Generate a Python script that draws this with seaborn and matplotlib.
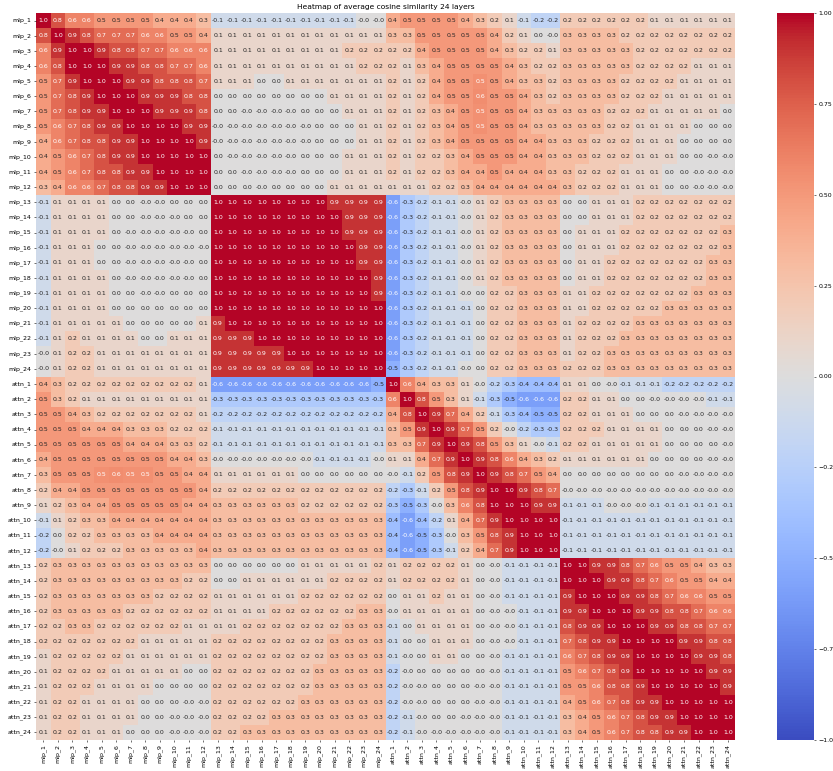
import numpy as np
import pandas as pd
import matplotlib
matplotlib.use("Agg")
import matplotlib.pyplot as plt
import seaborn as sns

mlp_labels = [f"mlp_{i}" for i in range(1, 25)]
attn_labels = [f"attn_{i}" for i in range(1, 25)]
labels = mlp_labels + attn_labels

# columns: mlp_1..mlp_24, attn_1..attn_24
mlp_rows = [
    [1.0,0.8,0.6,0.6,0.5,0.5,0.5,0.5,0.4,0.4,0.4,0.3,-0.1, -0.1,-0.1,-0.1,-0.1,-0.1,-0.1,-0.1,-0.1,-0.1,-0.0,-0.0, 0.4,0.5, 0.5,0.5,0.5,0.4,0.3,0.2,0.1,-0.1,-0.2,-0.2,0.2,0.2,0.2, 0.2,0.2,0.2,0.1,0.1,0.1,0.1,0.1,0.1],
    [0.8,1.0,0.9,0.8,0.7,0.7,0.7,0.6,0.6,0.5,0.5,0.4,0.1, 0.1,0.1,0.1,0.1,0.1,0.1,0.1,0.1,0.1,0.1,0.1, 0.3,0.3, 0.5,0.5,0.5,0.5,0.5,0.4,0.2,0.1,0.0,-0.0,0.3,0.3,0.3, 0.3,0.2,0.2,0.2,0.2,0.2,0.2,0.2,0.2],
    [0.6,0.9,1.0,1.0,0.9,0.8,0.8,0.7,0.7,0.6,0.6,0.6,0.1, 0.1,0.1,0.1,0.1,0.1,0.1,0.1,0.1,0.2,0.2,0.2, 0.2,0.2, 0.4,0.5,0.5,0.5,0.5,0.4,0.3,0.2,0.2,0.1,0.3,0.3,0.3, 0.3,0.3,0.2,0.2,0.2,0.2,0.2,0.2,0.2],
    [0.6,0.8,1.0,1.0,1.0,0.9,0.9,0.8,0.8,0.7,0.7,0.6,0.1, 0.1,0.1,0.1,0.1,0.1,0.1,0.1,0.1,0.1,0.2,0.2, 0.2,0.1, 0.3,0.4,0.5,0.5,0.5,0.5,0.4,0.3,0.2,0.2,0.3,0.3,0.3, 0.3,0.3,0.2,0.2,0.2,0.2,0.1,0.1,0.1],
    [0.5,0.7,0.9,1.0,1.0,1.0,0.9,0.9,0.8,0.8,0.8,0.7,0.1, 0.1,0.1,0.0,0.0,0.1,0.1,0.1,0.1,0.1,0.1,0.1, 0.2,0.1, 0.2,0.4,0.5,0.5,0.54,0.5,0.4,0.3,0.3,0.2,0.3,0.3,0.3, 0.3,0.2,0.2,0.2,0.2,0.1,0.1,0.1,0.1],
    [0.5,0.7,0.8,0.9,1.0,1.0,1.0,0.9,0.9,0.9,0.8,0.8,0.0, 0.0,0.0,0.0,0.0,0.0,0.0,0.0,0.1,0.1,0.1,0.1, 0.2,0.1, 0.2,0.4,0.5,0.5,0.56,0.5,0.5,0.4,0.3,0.2,0.3,0.3,0.3, 0.3,0.2,0.2,0.2,0.1,0.1,0.1,0.1,0.1],
    [0.5,0.7,0.8,0.9,0.9,1.0,1.0,1.0,0.9,0.9,0.9,0.8,0.0, 0.0,-0.0,-0.0,-0.0,-0.0,0.0,0.0,0.0,0.1,0.1,0.1, 0.2,0.1, 0.2,0.3,0.4,0.5,0.54,0.5,0.5,0.4,0.3,0.3,0.3,0.3,0.3, 0.2,0.2,0.2,0.1,0.1,0.1,0.1,0.1,0.0],
    [0.5,0.6,0.7,0.8,0.9,0.9,1.0,1.0,1.0,1.0,0.9,0.9,-0.0, -0.0,-0.0,-0.0,-0.0,-0.0,-0.0,0.0,0.0,0.0,0.1,0.1, 0.2,0.1, 0.2,0.3,0.4,0.5,0.54,0.5,0.5,0.4,0.3,0.3,0.3,0.3,0.3, 0.2,0.2,0.1,0.1,0.1,0.1,0.0,0.0,0.0],
    [0.4,0.6,0.7,0.8,0.8,0.9,0.9,1.0,1.0,1.0,1.0,0.9,-0.0, -0.0,-0.0,-0.0,-0.0,-0.0,-0.0,0.0,0.0,0.0,0.1,0.1, 0.2,0.1, 0.2,0.3,0.4,0.5,0.5,0.5,0.5,0.4,0.4,0.3,0.3,0.3,0.2, 0.2,0.2,0.1,0.1,0.1,0.0,0.0,0.0,0.0],
    [0.4,0.5,0.6,0.7,0.8,0.9,0.9,1.0,1.0,1.0,1.0,1.0,0.0, -0.0,-0.0,-0.0,-0.0,-0.0,0.0,0.0,0.0,0.1,0.1,0.1, 0.2,0.1, 0.2,0.2,0.3,0.4,0.5,0.5,0.5,0.4,0.4,0.3,0.3,0.3,0.2, 0.2,0.2,0.1,0.1,0.1,0.0,0.0,-0.0,-0.0],
    [0.4,0.5,0.6,0.7,0.8,0.8,0.9,0.9,1.0,1.0,1.0,1.0,0.0, 0.0,-0.0,-0.0,-0.0,-0.0,0.0,0.0,0.0,0.1,0.1,0.1, 0.2,0.1, 0.2,0.2,0.3,0.4,0.4,0.5,0.4,0.4,0.4,0.3,0.3,0.2,0.2, 0.2,0.1,0.1,0.1,0.0,0.0,-0.0,-0.0,-0.0],
    [0.3,0.4,0.6,0.6,0.7,0.8,0.8,0.9,0.9,1.0,1.0,1.0,0.0, 0.0,0.0,-0.0,0.0,0.0,0.0,0.0,0.1,0.1,0.1,0.1, 0.1,0.1, 0.1,0.2,0.2,0.3,0.4,0.4,0.4,0.4,0.4,0.4,0.3,0.2,0.2, 0.2,0.1,0.1,0.1,0.0,0.0,-0.0,-0.0,-0.0],
    [-0.1,0.1,0.1,0.1,0.1,0.0,0.0,-0.0,-0.0,0.0,0.0,0.0,1.0, 1.0,1.0,1.0,1.0,1.0,1.0,1.0,0.9,0.9,0.9,0.9, -0.6,-0.3, -0.2,-0.1,-0.1,-0.0,0.1,0.2,0.3,0.3,0.3,0.3,0.0,0.0,0.1, 0.1,0.1,0.2,0.2,0.2,0.2,0.2,0.2,0.2],
    [-0.1,0.1,0.1,0.1,0.1,0.0,0.0,-0.0,-0.0,-0.0,0.0,0.0,1.0, 1.0,1.0,1.0,1.0,1.0,1.0,1.0,1.0,0.9,0.9,0.9, -0.6,-0.3, -0.2,-0.1,-0.1,-0.0,0.1,0.2,0.3,0.3,0.3,0.3,0.0,0.0,0.1, 0.1,0.1,0.2,0.2,0.2,0.2,0.2,0.2,0.2],
    [-0.1,0.1,0.1,0.1,0.1,0.0,-0.0,-0.0,-0.0,-0.0,-0.0,0.0,1.0, 1.0,1.0,1.0,1.0,1.0,1.0,1.0,1.0,0.9,0.9,0.9, -0.6,-0.3, -0.2,-0.1,-0.1,-0.0,0.1,0.2,0.3,0.3,0.3,0.3,0.0,0.1,0.1, 0.1,0.2,0.2,0.2,0.2,0.2,0.2,0.2,0.3],
    [-0.1,0.1,0.1,0.1,0.0,0.0,-0.0,-0.0,-0.0,-0.0,-0.0,-0.0,1.0, 1.0,1.0,1.0,1.0,1.0,1.0,1.0,1.0,1.0,0.9,0.9, -0.6,-0.3, -0.2,-0.1,-0.1,-0.0,0.1,0.2,0.3,0.3,0.3,0.3,0.0,0.1,0.1, 0.1,0.2,0.2,0.2,0.2,0.2,0.2,0.2,0.3],
    [-0.1,0.1,0.1,0.1,0.0,0.0,-0.0,-0.0,-0.0,-0.0,-0.0,0.0,1.0, 1.0,1.0,1.0,1.0,1.0,1.0,1.0,1.0,1.0,0.9,0.9, -0.6,-0.3, -0.2,-0.1,-0.1,-0.0,0.1,0.2,0.3,0.3,0.3,0.3,0.0,0.1,0.1, 0.2,0.2,0.2,0.2,0.2,0.2,0.2,0.3,0.3],
    [-0.1,0.1,0.1,0.1,0.1,0.0,-0.0,-0.0,-0.0,-0.0,-0.0,0.0,1.0, 1.0,1.0,1.0,1.0,1.0,1.0,1.0,1.0,1.0,1.0,0.9, -0.6,-0.3, -0.2,-0.1,-0.1,-0.0,0.1,0.2,0.3,0.3,0.3,0.3,0.0,0.1,0.1, 0.2,0.2,0.2,0.2,0.2,0.2,0.2,0.3,0.3],
    [-0.1,0.1,0.1,0.1,0.1,0.0,0.0,-0.0,-0.0,0.0,0.0,0.0,1.0, 1.0,1.0,1.0,1.0,1.0,1.0,1.0,1.0,1.0,1.0,0.9, -0.6,-0.3, -0.2,-0.1,-0.1,-0.0,0.0,0.2,0.2,0.3,0.3,0.3,0.1,0.1,0.2, 0.2,0.2,0.2,0.2,0.2,0.2,0.3,0.3,0.3],
    [-0.1,0.1,0.1,0.1,0.1,0.0,0.0,0.0,0.0,0.0,0.0,0.0,1.0, 1.0,1.0,1.0,1.0,1.0,1.0,1.0,1.0,1.0,1.0,1.0, -0.6,-0.3, -0.2,-0.1,-0.1,-0.1,0.0,0.2,0.2,0.3,0.3,0.3,0.1,0.1,0.2, 0.2,0.2,0.2,0.2,0.3,0.3,0.3,0.3,0.3],
    [-0.1,0.1,0.1,0.1,0.1,0.1,0.0,0.0,0.0,0.0,0.0,0.1,0.9, 1.0,1.0,1.0,1.0,1.0,1.0,1.0,1.0,1.0,1.0,1.0, -0.6,-0.3, -0.2,-0.1,-0.1,-0.1,0.0,0.2,0.2,0.3,0.3,0.3,0.1,0.2,0.2, 0.2,0.2,0.3,0.3,0.3,0.3,0.3,0.3,0.3],
    [-0.1,0.1,0.2,0.1,0.1,0.1,0.1,0.0,0.0,0.1,0.1,0.1,0.9, 0.9,0.9,1.0,1.0,1.0,1.0,1.0,1.0,1.0,1.0,1.0, -0.6,-0.3, -0.2,-0.1,-0.1,-0.1,0.0,0.2,0.2,0.3,0.3,0.3,0.1,0.2,0.2, 0.2,0.3,0.3,0.3,0.3,0.3,0.3,0.3,0.3],
    [-0.0,0.1,0.2,0.2,0.1,0.1,0.1,0.1,0.1,0.1,0.1,0.1,0.9, 0.9,0.9,0.9,0.9,1.0,1.0,1.0,1.0,1.0,1.0,1.0, -0.6,-0.3, -0.2,-0.1,-0.1,-0.1,0.0,0.2,0.2,0.3,0.3,0.3,0.1,0.2,0.2, 0.3,0.3,0.3,0.3,0.3,0.3,0.3,0.3,0.3],
    [-0.0,0.1,0.2,0.2,0.1,0.1,0.1,0.1,0.1,0.1,0.1,0.1,0.9, 0.9,0.9,0.9,0.9,0.9,0.9,1.0,1.0,1.0,1.0,1.0, -0.5,-0.3, -0.2,-0.1,-0.1,-0.0,0.0,0.2,0.2,0.3,0.3,0.3,0.2,0.2,0.2, 0.3,0.3,0.3,0.3,0.3,0.3,0.3,0.3,0.3],
]

attn_rows = [
    [0.4,0.3,0.2,0.2,0.2,0.2,0.2,0.2,0.2,0.2,0.2,0.1,-0.6, -0.6,-0.6,-0.6,-0.6,-0.6,-0.6,-0.6,-0.6,-0.6,-0.6,-0.5, 1.0,0.6, 0.4,0.3,0.3,0.1,-0.0,-0.2,-0.3,-0.4,-0.4,-0.4,0.1,0.1,0.0, -0.0,-0.1,-0.1,-0.1,-0.2,-0.2,-0.2,-0.2,-0.2],
    [0.5,0.3,0.2,0.1,0.1,0.1,0.1,0.1,0.1,0.1,0.1,0.1,-0.3, -0.3,-0.3,-0.3,-0.3,-0.3,-0.3,-0.3,-0.3,-0.3,-0.3,-0.3, 0.6,1.0, 0.8,0.5,0.3,0.1,-0.1,-0.3,-0.5,-0.6,-0.6,-0.6,0.2,0.2,0.1, 0.1,0.0,0.0,-0.0,-0.0,-0.0,-0.0,-0.1,-0.1],
    [0.5,0.5,0.4,0.3,0.2,0.2,0.2,0.2,0.2,0.2,0.2,0.1,-0.2, -0.2,-0.2,-0.2,-0.2,-0.2,-0.2,-0.2,-0.2,-0.2,-0.2,-0.2, 0.4,0.8, 1.0,0.9,0.7,0.4,0.2,-0.1,-0.3,-0.4,-0.5,-0.5,0.2,0.2,0.1, 0.1,0.1,0.0,0.0,0.0,-0.0,-0.0,-0.0,-0.0],
    [0.5,0.5,0.5,0.4,0.4,0.4,0.3,0.3,0.3,0.2,0.2,0.2,-0.1, -0.1,-0.1,-0.1,-0.1,-0.1,-0.1,-0.1,-0.1,-0.1,-0.1,-0.1, 0.3,0.5, 0.9,1.0,0.9,0.7,0.5,0.2,-0.0,-0.2,-0.3,-0.3,0.2,0.2,0.2, 0.1,0.1,0.1,0.1,0.0,0.0,0.0,-0.0,-0.0],
    [0.5,0.5,0.5,0.5,0.5,0.5,0.4,0.4,0.4,0.3,0.3,0.2,-0.1, -0.1,-0.1,-0.1,-0.1,-0.1,-0.1,-0.1,-0.1,-0.1,-0.1,-0.1, 0.3,0.3, 0.7,0.9,1.0,0.9,0.8,0.5,0.3,0.1,-0.0,-0.1,0.2,0.2,0.1, 0.1,0.1,0.1,0.1,0.0,0.0,0.0,0.0,-0.0],
    [0.4,0.5,0.5,0.5,0.5,0.5,0.5,0.5,0.5,0.4,0.4,0.3,-0.0, -0.0,-0.0,-0.0,-0.0,-0.0,-0.0,-0.1,-0.1,-0.1,-0.1,-0.0, 0.1,0.1, 0.4,0.7,0.9,1.0,0.9,0.8,0.6,0.4,0.3,0.2,0.1,0.1,0.1, 0.1,0.1,0.1,0.0,0.0,0.0,0.0,-0.0,-0.0],
    [0.3,0.5,0.5,0.5,0.54,0.56,0.54,0.54,0.5,0.5,0.4,0.4,0.1, 0.1,0.1,0.1,0.1,0.1,0.0,0.0,0.0,0.0,0.0,0.0, -0.0,-0.1, 0.2,0.5,0.8,0.9,1.0,0.9,0.8,0.7,0.5,0.4,0.0,0.0,0.0, 0.0,0.0,0.0,0.0,0.0,-0.0,-0.0,-0.0,-0.0],
    [0.2,0.4,0.4,0.5,0.5,0.5,0.5,0.5,0.5,0.5,0.5,0.4,0.2, 0.2,0.2,0.2,0.2,0.2,0.2,0.2,0.2,0.2,0.2,0.2, -0.2,-0.3, -0.1,0.2,0.5,0.8,0.9,1.0,1.0,0.9,0.8,0.7,-0.0,-0.0,-0.0, -0.0,-0.0,-0.0,-0.0,-0.0,-0.0,-0.0,-0.0,-0.0],
    [0.1,0.2,0.3,0.4,0.4,0.5,0.5,0.5,0.5,0.5,0.4,0.4,0.3, 0.3,0.3,0.3,0.3,0.3,0.2,0.2,0.2,0.2,0.2,0.2, -0.3,-0.5, -0.3,-0.0,0.3,0.6,0.8,1.0,1.0,1.0,0.9,0.9,-0.1,-0.1,-0.1, -0.0,-0.0,-0.0,-0.1,-0.1,-0.1,-0.1,-0.1,-0.1],
    [-0.1,0.1,0.2,0.3,0.3,0.4,0.4,0.4,0.4,0.4,0.4,0.4,0.3, 0.3,0.3,0.3,0.3,0.3,0.3,0.3,0.3,0.3,0.3,0.3, -0.4,-0.6, -0.4,-0.2,0.1,0.4,0.7,0.9,1.0,1.0,1.0,1.0,-0.1,-0.1,-0.1, -0.1,-0.1,-0.1,-0.1,-0.1,-0.1,-0.1,-0.1,-0.1],
    [-0.2,0.0,0.2,0.2,0.3,0.3,0.3,0.3,0.4,0.4,0.4,0.4,0.3, 0.3,0.3,0.3,0.3,0.3,0.3,0.3,0.3,0.3,0.3,0.3, -0.4,-0.6, -0.5,-0.3,-0.0,0.3,0.5,0.8,0.9,1.0,1.0,1.0,-0.1,-0.1,-0.1, -0.1,-0.1,-0.1,-0.1,-0.1,-0.1,-0.1,-0.1,-0.1],
    [-0.2,-0.0,0.1,0.2,0.2,0.2,0.3,0.3,0.3,0.3,0.3,0.4,0.3, 0.3,0.3,0.3,0.3,0.3,0.3,0.3,0.3,0.3,0.3,0.3, -0.4,-0.6, -0.5,-0.3,-0.1,0.2,0.4,0.7,0.9,1.0,1.0,1.0,-0.1,-0.1,-0.1, -0.1,-0.1,-0.1,-0.1,-0.1,-0.1,-0.1,-0.1,-0.1],
    [0.2,0.3,0.3,0.3,0.3,0.3,0.3,0.3,0.3,0.3,0.3,0.3,0.0, 0.0,0.0,0.0,0.0,0.0,0.1,0.1,0.1,0.1,0.1,0.2, 0.1,0.2, 0.2,0.2,0.2,0.1,0.0,-0.0,-0.1,-0.1,-0.1,-0.1,1.0,1.0,0.9, 0.9,0.8,0.7,0.6,0.5,0.5,0.4,0.3,0.3],
    [0.2,0.3,0.3,0.3,0.3,0.3,0.3,0.3,0.3,0.3,0.2,0.2,0.0, 0.0,0.1,0.1,0.1,0.1,0.1,0.1,0.2,0.2,0.2,0.2, 0.1,0.2, 0.2,0.2,0.2,0.1,0.0,-0.0,-0.1,-0.1,-0.1,-0.1,1.0,1.0,1.0, 0.9,0.9,0.8,0.7,0.6,0.5,0.5,0.4,0.4],
    [0.2,0.3,0.3,0.3,0.3,0.3,0.3,0.3,0.2,0.2,0.2,0.2,0.1, 0.1,0.1,0.1,0.1,0.1,0.2,0.2,0.2,0.2,0.2,0.2, 0.0,0.1, 0.1,0.2,0.1,0.1,0.0,-0.0,-0.1,-0.1,-0.1,-0.1,0.9,1.0,1.0, 1.0,0.9,0.9,0.8,0.7,0.6,0.6,0.5,0.5],
    [0.2,0.3,0.3,0.3,0.3,0.3,0.2,0.2,0.2,0.2,0.2,0.2,0.1, 0.1,0.1,0.1,0.2,0.2,0.2,0.2,0.2,0.2,0.3,0.3, -0.0,0.1, 0.1,0.1,0.1,0.1,0.0,-0.0,-0.0,-0.1,-0.1,-0.1,0.9,0.9,1.0, 1.0,1.0,0.9,0.9,0.8,0.8,0.7,0.6,0.6],
    [0.2,0.2,0.3,0.3,0.2,0.2,0.2,0.2,0.2,0.2,0.1,0.1,0.1, 0.1,0.2,0.2,0.2,0.2,0.2,0.2,0.2,0.3,0.3,0.3, -0.1,0.0, 0.1,0.1,0.1,0.1,0.0,-0.0,-0.0,-0.1,-0.1,-0.1,0.8,0.9,0.9, 1.0,1.0,1.0,0.9,0.9,0.8,0.8,0.7,0.7],
    [0.2,0.2,0.2,0.2,0.2,0.2,0.2,0.1,0.1,0.1,0.1,0.1,0.2, 0.2,0.2,0.2,0.2,0.2,0.2,0.2,0.3,0.3,0.3,0.3, -0.1,0.0, 0.0,0.1,0.1,0.1,0.0,-0.0,-0.0,-0.1,-0.1,-0.1,0.7,0.8,0.9, 0.9,1.0,1.0,1.0,1.0,0.9,0.9,0.8,0.8],
    [0.1,0.2,0.2,0.2,0.2,0.2,0.1,0.1,0.1,0.1,0.1,0.1,0.2, 0.2,0.2,0.2,0.2,0.2,0.2,0.2,0.3,0.3,0.3,0.3, -0.1,-0.0, 0.0,0.1,0.1,0.0,0.0,-0.0,-0.1,-0.1,-0.1,-0.1,0.6,0.7,0.8, 0.9,0.9,1.0,1.0,1.0,1.0,0.9,0.9,0.8],
    [0.1,0.2,0.2,0.2,0.2,0.1,0.1,0.1,0.1,0.1,0.0,0.0,0.2, 0.2,0.2,0.2,0.2,0.2,0.2,0.3,0.3,0.3,0.3,0.3, -0.2,-0.0, 0.0,0.0,0.0,0.0,0.0,-0.0,-0.1,-0.1,-0.1,-0.1,0.5,0.6,0.7, 0.8,0.9,1.0,1.0,1.0,1.0,1.0,0.9,0.9],
    [0.1,0.2,0.2,0.2,0.1,0.1,0.1,0.1,0.0,0.0,0.0,0.0,0.2, 0.2,0.2,0.2,0.2,0.2,0.2,0.3,0.3,0.3,0.3,0.3, -0.2,-0.0, -0.0,0.0,0.0,0.0,-0.0,-0.0,-0.1,-0.1,-0.1,-0.1,0.5,0.5,0.6, 0.8,0.8,0.9,1.0,1.0,1.0,1.0,1.0,0.9],
    [0.1,0.2,0.2,0.1,0.1,0.1,0.1,0.0,0.0,0.0,-0.0,-0.0,0.2, 0.2,0.2,0.2,0.2,0.2,0.3,0.3,0.3,0.3,0.3,0.3, -0.2,-0.0, -0.0,0.0,0.0,0.0,-0.0,-0.0,-0.1,-0.1,-0.1,-0.1,0.4,0.5,0.6, 0.7,0.8,0.9,0.9,1.0,1.0,1.0,1.0,1.0],
    [0.1,0.2,0.2,0.1,0.1,0.1,0.1,0.0,0.0,-0.0,-0.0,-0.0,0.2, 0.2,0.2,0.2,0.3,0.3,0.3,0.3,0.3,0.3,0.3,0.3, -0.2,-0.1, -0.0,0.0,0.0,-0.0,-0.0,-0.0,-0.1,-0.1,-0.1,-0.1,0.3,0.4,0.5, 0.6,0.7,0.8,0.9,0.9,1.0,1.0,1.0,1.0],
    [0.1,0.2,0.2,0.1,0.1,0.1,0.0,0.0,0.0,-0.0,-0.0,-0.0,0.2, 0.2,0.3,0.3,0.3,0.3,0.3,0.3,0.3,0.3,0.3,0.3, -0.2,-0.1, -0.0,-0.0,-0.0,-0.0,-0.0,-0.0,-0.1,-0.1,-0.1,-0.1,0.3,0.4,0.5, 0.6,0.7,0.8,0.8,0.9,0.9,1.0,1.0,1.0],
]

title = "Heatmap of average cosine similarity 24 layers"

for r in mlp_rows + attn_rows:
    assert len(r) == 48, len(r)

df = pd.DataFrame(mlp_rows + attn_rows, index=labels, columns=labels)

W, H = 833, 771
fig = plt.figure(figsize=(W / 100, H / 100), dpi=100)
ax = fig.add_axes([36 / W, 1 - 740 / H, 699 / W, 727 / H])
cax = fig.add_axes([777 / W, 1 - 740 / H, 37 / W, 727 / H])

fs = 4.5
sns.heatmap(df, annot=True, fmt=".1f", cmap="coolwarm", vmin=-1, vmax=1,
            ax=ax, cbar_ax=cax, annot_kws={"size": fs},
            xticklabels=labels, yticklabels=labels)

ax.set_title(title, fontsize=5.4, pad=2.7)
ax.tick_params(axis="both", labelsize=fs, length=1.6, width=0.4, pad=1.6)
for lbl in ax.get_xticklabels():
    lbl.set_rotation(90)
for lbl in ax.get_yticklabels():
    lbl.set_rotation(0)

cax.set_yticks([-1.0, -0.75, -0.5, -0.25, 0.0, 0.25, 0.5, 0.75, 1.0])
cax.set_yticklabels(["\u22121.00", "\u22120.75", "\u22120.50", "\u22120.25", "0.00", "0.25", "0.50", "0.75", "1.00"])
cax.tick_params(labelsize=fs, length=1.6, width=0.4, pad=1.6)

fig.savefig("out.png", dpi=100)
